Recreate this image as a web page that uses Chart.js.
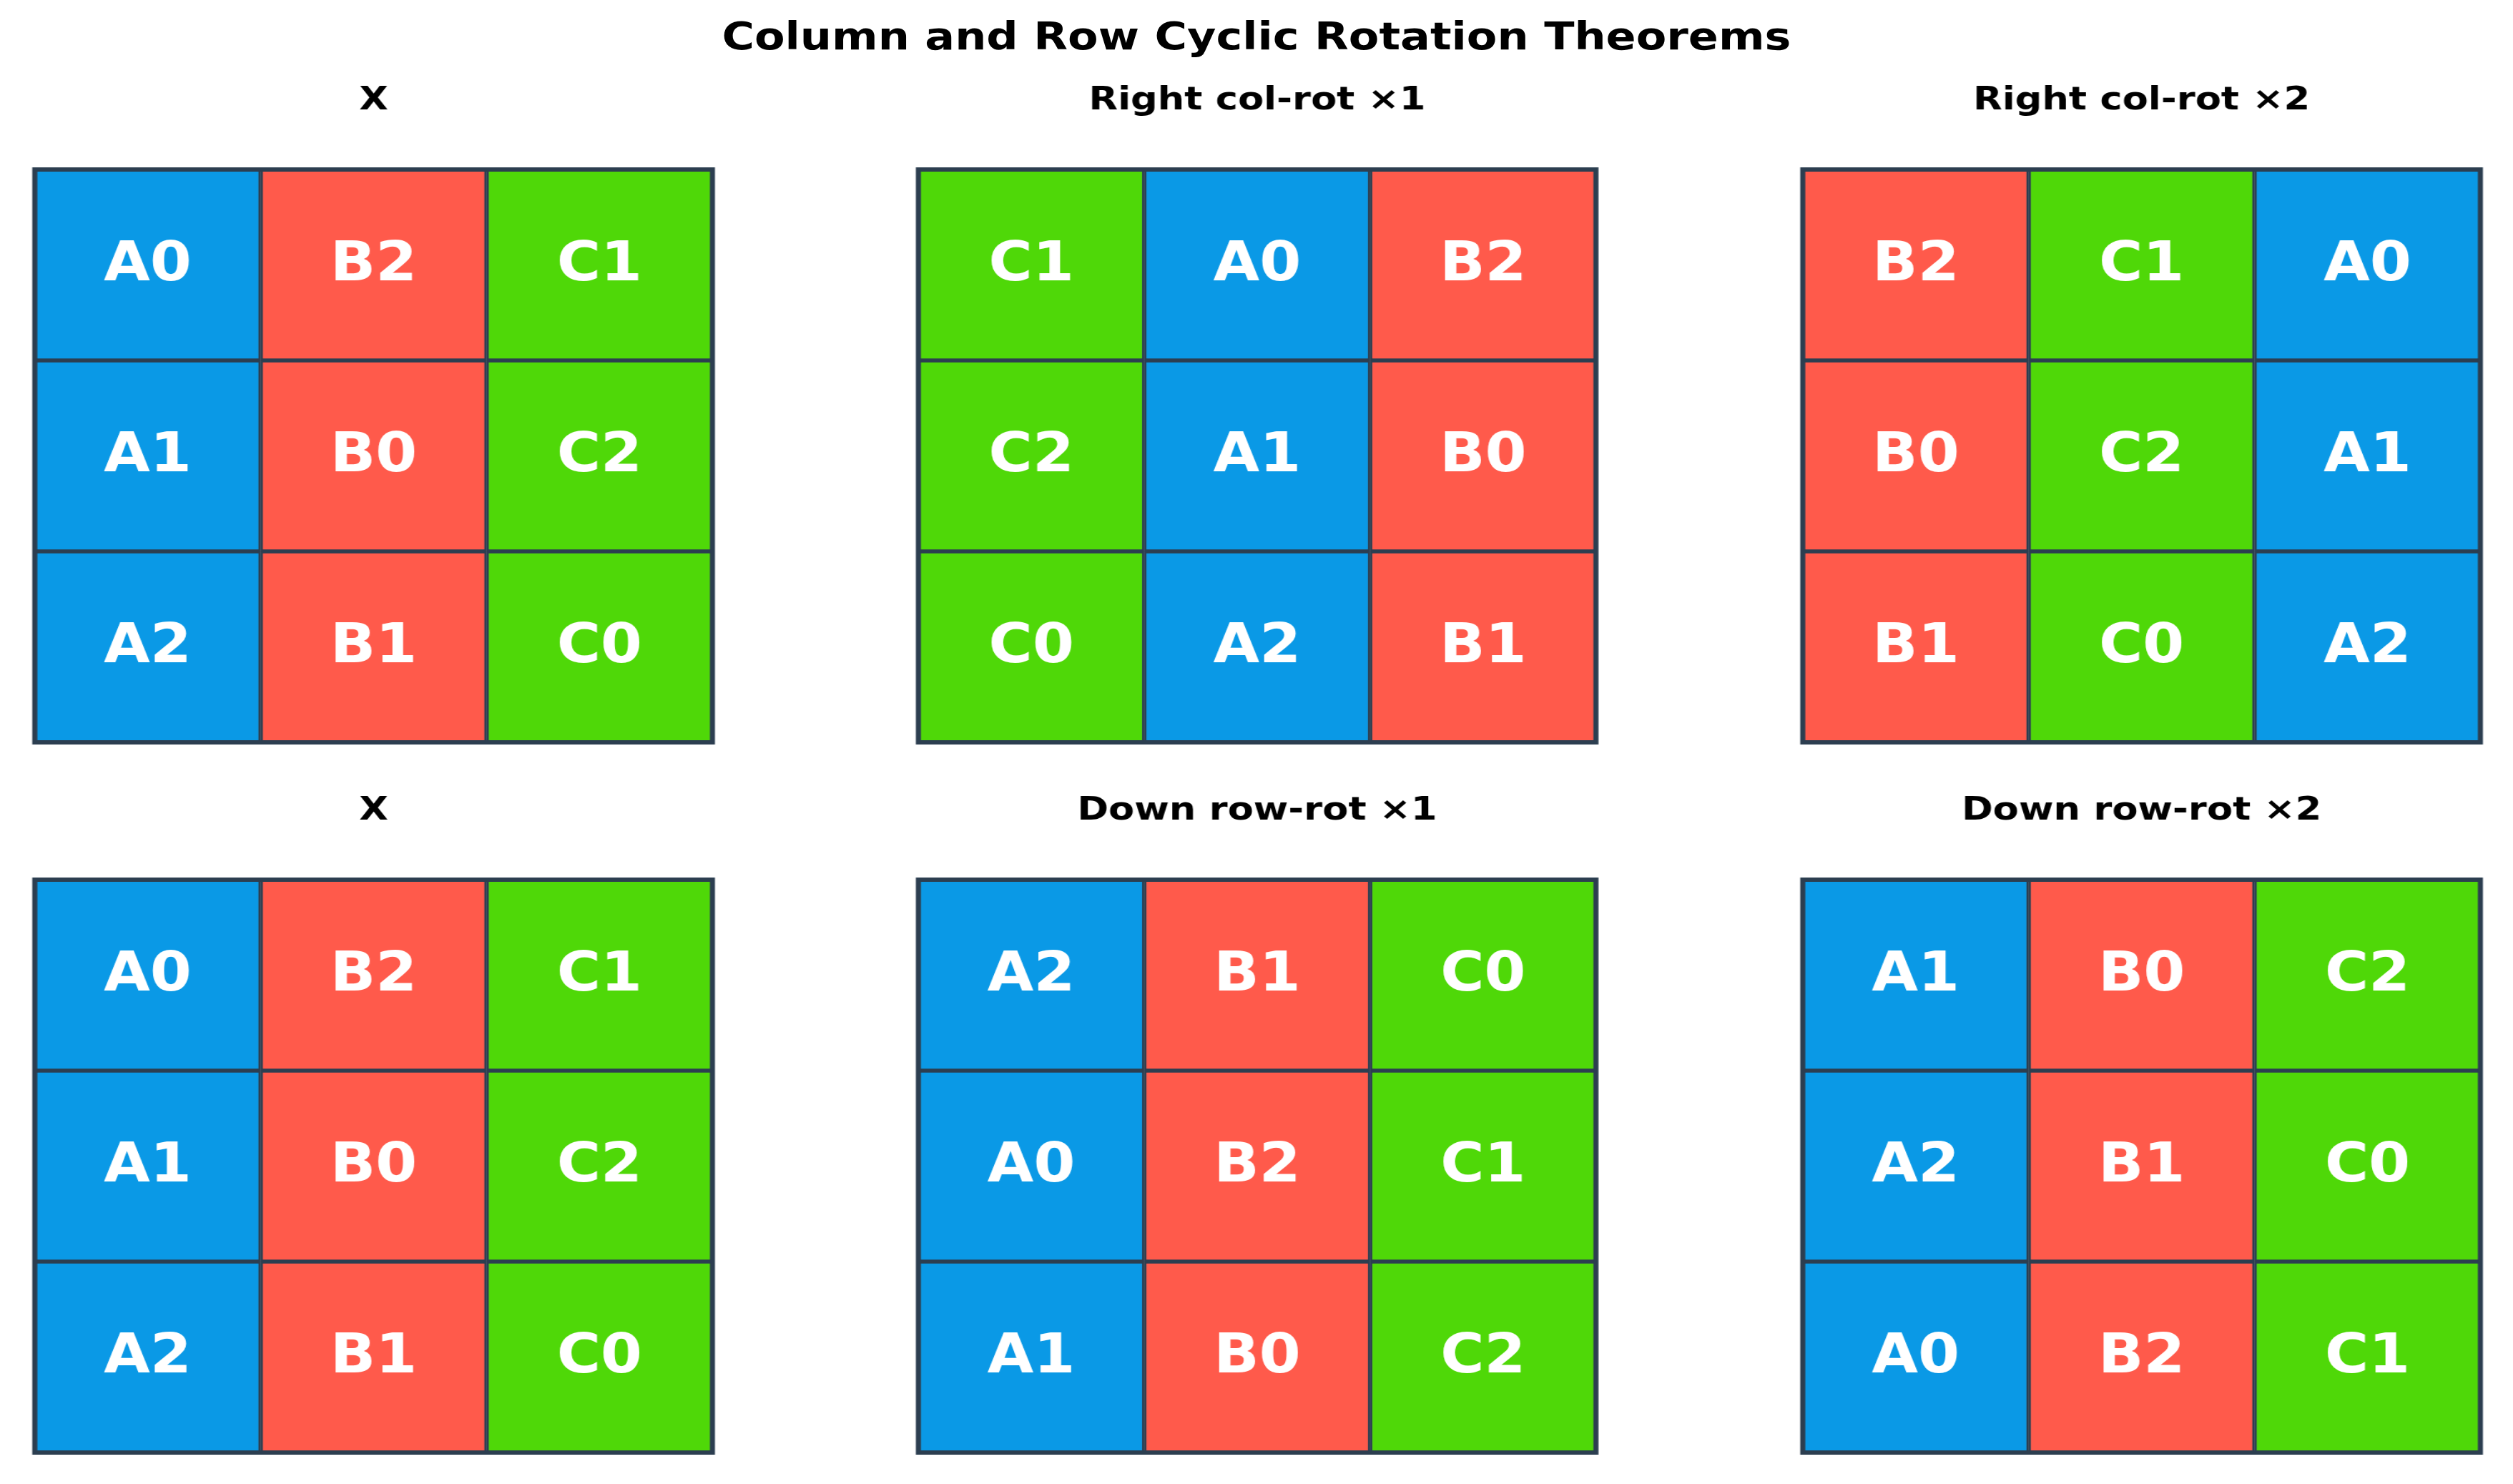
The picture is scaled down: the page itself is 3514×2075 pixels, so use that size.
<!DOCTYPE html>
<html>
<head>
<meta charset="utf-8">
<script src="https://cdn.jsdelivr.net/npm/chart.js@4.4.1/dist/chart.umd.min.js"></script>
<style>
  html, body { margin: 0; padding: 0; background: #ffffff; overflow: hidden; }
  #page { position: absolute; left: 0; top: 0; height: 2075px; transform-origin: 0 0; }
  #mainTitle { position: absolute; left: 0; right: 0; text-align: center;
    font-family: "DejaVu Sans", sans-serif; font-weight: bold; color: #000; white-space: nowrap; }
  canvas { position: absolute; }
</style>
</head>
<body>
<div id="page">
  <div id="mainTitle">Column and Row Cyclic Rotation Theorems</div>
</div>
<script>
// ---------------- data ----------------
const mainTitle = 'Column and Row Cyclic Rotation Theorems';
const panelTitles = ['X', 'Right col-rot ×1', 'Right col-rot ×2', 'X', 'Down row-rot ×1', 'Down row-rot ×2'];
const columnCategories = ['col 0', 'col 1', 'col 2'];
const cellValue = [1, 1, 1];
const gridX       = [['A0','B2','C1'], ['A1','B0','C2'], ['A2','B1','C0']];
const gridColRot1 = [['C1','A0','B2'], ['C2','A1','B0'], ['C0','A2','B1']];
const gridColRot2 = [['B2','C1','A0'], ['B0','C2','A1'], ['B1','C0','A2']];
const gridRowRot1 = [['A2','B1','C0'], ['A0','B2','C1'], ['A1','B0','C2']];
const gridRowRot2 = [['A1','B0','C2'], ['A2','B1','C0'], ['A0','B2','C1']];
const panelGrids = [gridX, gridColRot1, gridColRot2, gridX, gridRowRot1, gridRowRot2];
const letterColors = { A: '#0A99E6', B: '#FF5A4B', C: '#4FD808' };

// ---------------- layout (page pixels) ----------------
const S = 1.17;                 // horizontal stretch of the reference
const W = 3514, H = 2075;
const gridLefts = [49, 1284, 2521];
const gridTops = [237, 1230];
const gridW = 948, gridH = 801;
const titleBlock = 137;         // from canvas top to grid top
const pad = 10;
const borderColor = '#2c3e50';

const page = document.getElementById('page');
page.style.width = (W / S) + 'px';
page.style.transform = 'scaleX(' + S + ')';
const mt = document.getElementById('mainTitle');
mt.textContent = mainTitle;
mt.style.fontSize = '53px';
mt.style.lineHeight = '60px';
mt.style.top = (51 - 30) + 'px';

const cellLabelPlugin = {
  id: 'cellLabels',
  afterDatasetsDraw(chart) {
    const ctx = chart.ctx;
    const ca = chart.chartArea;
    ctx.save();
    ctx.strokeStyle = borderColor;
    ctx.lineWidth = 6;
    ctx.strokeRect(ca.left, ca.top, ca.right - ca.left, ca.bottom - ca.top);
    ctx.fillStyle = '#ffffff';
    ctx.font = 'bold 76px "DejaVu Sans"';
    ctx.textAlign = 'center';
    ctx.textBaseline = 'middle';
    chart.data.datasets.forEach((ds, di) => {
      const meta = chart.getDatasetMeta(di);
      meta.data.forEach((el, i) => {
        const cy = (el.y + el.base) / 2;
        ctx.save();
        ctx.translate(el.x, cy + 2);
        ctx.scale(0.94, 1);
        ctx.fillText(ds.cellLabels[i], 0, 0);
        ctx.restore();
      });
    });
    ctx.restore();
  }
};

panelGrids.forEach((grid, p) => {
  const col = p % 3, row = Math.floor(p / 3);
  const cLeft = (gridLefts[col] - pad) / S;
  const cW = (gridW + 2 * pad) / S;
  const cTop = gridTops[row] - titleBlock;
  const cH = titleBlock + gridH + pad;
  const canvas = document.createElement('canvas');
  canvas.width = Math.round(cW);
  canvas.height = Math.round(cH);
  canvas.style.left = cLeft + 'px';
  canvas.style.top = cTop + 'px';
  canvas.style.width = Math.round(cW) + 'px';
  canvas.style.height = Math.round(cH) + 'px';
  page.appendChild(canvas);

  const datasets = grid.map((rowLabels, r) => ({
    label: 'row ' + r,
    data: cellValue.slice(),
    cellLabels: rowLabels,
    backgroundColor: rowLabels.map(l => letterColors[l[0]]),
    borderColor: borderColor,
    borderWidth: 3,
    borderSkipped: false,
    barPercentage: 1,
    categoryPercentage: 1,
    clip: false
  }));

  new Chart(canvas, {
    type: 'bar',
    data: { labels: columnCategories, datasets },
    options: {
      responsive: false,
      animation: false,
      devicePixelRatio: 1,
      layout: { padding: { left: pad / S, right: pad / S, top: 0, bottom: pad } },
      plugins: {
        legend: { display: false },
        tooltip: { enabled: false },
        title: {
          display: true,
          text: panelTitles[p],
          color: '#000000',
          font: { family: '"DejaVu Sans"', size: 45, weight: 'bold', lineHeight: 1.2 },
          padding: { top: 14, bottom: 69 }
        }
      },
      scales: {
        x: { display: false, stacked: true, offset: true, grid: { display: false } },
        y: { display: false, stacked: true, min: 0, max: 3, reverse: true, grid: { display: false } }
      }
    },
    plugins: [cellLabelPlugin]
  });
});
</script>
</body>
</html>
